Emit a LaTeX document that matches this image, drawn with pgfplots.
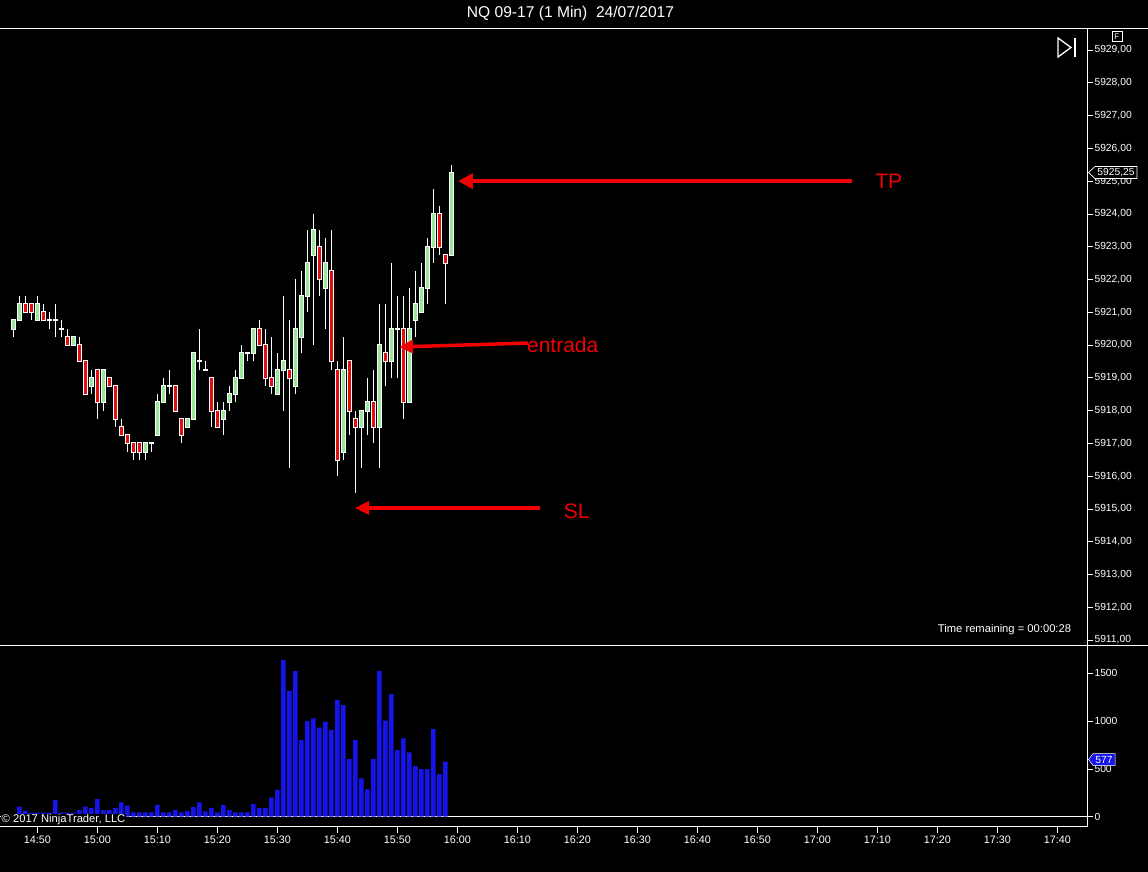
\documentclass[border=0pt]{standalone}
\usepackage{pgfplots}
\pgfplotsset{compat=1.18}
\usepackage{pgfplotstable}
\usepackage{fontspec}
\setmainfont{Liberation Sans}
\usetikzlibrary{arrows.meta}

\definecolor{candlegreen}{RGB}{150,232,150}
\definecolor{candlered}{RGB}{225,15,15}
\definecolor{volblue}{RGB}{20,20,235}
\definecolor{arrowred}{RGB}{240,0,0}

% t = minutes after 14:00, one bar per minute
\pgfplotstableread{
t o h l c
46 5920.50 5920.75 5920.25 5920.75
47 5920.75 5921.50 5920.75 5921.25
48 5921.25 5921.50 5921.00 5921.00
49 5921.25 5921.25 5920.75 5921.00
50 5920.75 5921.50 5920.75 5921.25
51 5921.00 5921.25 5920.75 5920.75
52 5920.75 5921.00 5920.50 5920.75
53 5920.75 5921.25 5920.25 5920.75
54 5920.50 5920.75 5920.25 5920.50
55 5920.25 5920.50 5920.00 5920.00
56 5920.00 5920.25 5920.00 5920.25
57 5920.00 5920.25 5919.50 5919.50
58 5919.50 5919.50 5918.50 5918.50
59 5918.75 5919.25 5918.50 5919.00
60 5919.25 5919.25 5917.75 5918.25
61 5918.25 5919.25 5918.00 5919.25
62 5919.00 5919.00 5918.75 5918.75
63 5918.75 5918.75 5917.50 5917.75
64 5917.50 5917.75 5917.25 5917.25
65 5917.25 5917.25 5916.75 5917.00
66 5917.00 5917.00 5916.50 5916.75
67 5917.00 5917.00 5916.50 5916.75
68 5916.75 5917.00 5916.50 5917.00
69 5917.00 5917.00 5916.75 5917.00
70 5917.25 5918.50 5917.25 5918.25
71 5918.25 5919.00 5918.25 5918.75
72 5918.75 5919.25 5918.50 5918.75
73 5918.75 5918.75 5918.00 5918.00
74 5917.75 5917.75 5917.00 5917.25
75 5917.50 5917.75 5917.50 5917.75
76 5917.75 5919.75 5917.75 5919.75
77 5919.50 5920.50 5919.25 5919.50
78 5919.25 5919.50 5919.25 5919.25
79 5919.00 5919.00 5917.50 5918.00
80 5918.00 5918.25 5917.50 5917.50
81 5917.75 5918.25 5917.25 5918.00
82 5918.25 5918.75 5918.00 5918.50
83 5918.50 5919.25 5918.25 5919.00
84 5919.00 5920.00 5919.00 5919.75
85 5919.75 5919.75 5919.50 5919.75
86 5919.75 5920.50 5919.50 5920.50
87 5920.50 5920.75 5920.00 5920.00
88 5920.00 5920.50 5918.75 5919.00
89 5919.00 5920.25 5918.50 5918.75
90 5918.50 5919.75 5918.50 5919.25
91 5919.25 5921.50 5918.00 5919.50
92 5919.25 5920.75 5916.25 5919.00
93 5918.75 5922.00 5918.50 5920.50
94 5920.25 5922.25 5919.75 5921.50
95 5921.50 5923.50 5921.00 5922.50
96 5922.75 5924.00 5920.00 5923.50
97 5923.00 5923.50 5921.50 5922.00
98 5921.75 5923.25 5920.50 5922.50
99 5922.25 5923.50 5919.25 5919.50
100 5919.25 5919.50 5916.00 5916.50
101 5916.75 5920.25 5916.50 5919.25
102 5919.50 5919.50 5917.25 5918.00
103 5917.75 5918.00 5915.50 5917.50
104 5917.50 5918.00 5916.25 5918.00
105 5918.00 5919.00 5917.25 5918.25
106 5918.25 5919.25 5917.00 5917.50
107 5917.50 5921.25 5916.25 5920.00
108 5919.75 5921.25 5918.75 5919.50
109 5919.50 5922.50 5919.00 5920.50
110 5920.50 5921.50 5919.00 5920.50
111 5920.50 5921.50 5917.75 5918.25
112 5918.25 5921.75 5918.25 5920.50
113 5920.75 5922.25 5920.25 5921.25
114 5921.00 5922.50 5921.00 5921.75
115 5921.75 5923.25 5921.25 5923.00
116 5923.00 5924.75 5922.50 5924.00
117 5924.00 5924.25 5922.75 5923.00
118 5922.75 5922.75 5921.25 5922.50
119 5922.75 5925.50 5922.75 5925.25
}\candles

\pgfplotstableread{
t v
46 25
47 105
48 60
49 42
50 42
51 42
52 42
53 175
54 42
55 42
56 42
57 70
58 105
59 90
60 185
61 70
62 70
63 90
64 150
65 115
66 45
67 45
68 45
69 45
70 125
71 45
72 45
73 70
74 45
75 60
76 100
77 150
78 55
79 90
80 45
81 120
82 70
83 45
84 45
85 45
86 132
87 90
88 90
89 200
90 280
91 1639
92 1315
93 1524
94 802
95 1000
96 1029
97 931
98 994
99 907
100 1220
101 1168
102 603
103 802
104 401
105 286
106 603
107 1524
108 1004
109 1283
110 697
111 819
112 673
113 530
114 499
115 499
116 917
117 446
118 577
}\volume

\pgfplotsset{
  ninja/.style={
    scale only axis, width=1087pt, xmin=43.783, xmax=224.95,
    axis line style={white, line width=0.8pt},
    tick style={white, line width=0.8pt},
    tick align=outside, major tick length=6pt,
    ticklabel style={text=white},
    scaled ticks=false,
    /pgf/number format/assume math mode=true,
    /pgf/number format/1000 sep={},
  },
  candlebar/.style={draw=none, mark=none, forget plot,
    error bars/y dir=plus, error bars/y explicit, error bars/error mark=none},
}

\begin{document}
\begin{tikzpicture}
\fill[black] (0pt,0pt) rectangle (1148pt,-872pt);

% price panel
\begin{axis}[ninja, height=617.4pt, at={(0pt,-28.3pt)}, anchor=north west,
  ymin=5910.827, ymax=5929.662,
  axis y line*=right, axis x line=none,
  ytick={5911,5912,...,5929},
  yticklabel={\pgfmathprintnumber[fixed,fixed zerofill,precision=2,use comma,1000 sep={}]{\tick}},
  yticklabel style={font=\fontsize{10.3}{12}\selectfont, anchor=west, xshift=-2pt},
]
% wicks
\addplot[candlebar, error bars/error bar style={draw=white, line width=1pt}]
  table[x=t, y=l, y error plus expr=\thisrow{h}-\thisrow{l}] {\candles};
% body outlines
\addplot[candlebar, error bars/error bar style={draw=white, line width=5pt}]
  table[x=t, y expr={min(\thisrow{o},\thisrow{c})-0.03},
        y error plus expr={abs(\thisrow{c}-\thisrow{o})+0.06}] {\candles};
% up bodies
\addplot[candlebar, error bars/error bar style={draw=candlegreen, line width=3pt},
  restrict expr to domain={\thisrow{c}-\thisrow{o}}{0.1:100}]
  table[x=t, y=o, y error plus expr=\thisrow{c}-\thisrow{o}] {\candles};
% down bodies
\addplot[candlebar, error bars/error bar style={draw=candlered, line width=3pt},
  restrict expr to domain={\thisrow{o}-\thisrow{c}}{0.1:100}]
  table[x=t, y=c, y error plus expr=\thisrow{o}-\thisrow{c}] {\candles};

% annotations
\draw[arrowred, line width=3.5pt, -{Triangle[length=15pt,width=15pt]}]
  (axis cs:185.8,5925) -- (axis cs:120.1,5925);
\node[text=arrowred, font=\fontsize{21}{24}\selectfont] at (axis cs:191.9,5925) {TP};
\draw[arrowred, line width=3.5pt, -{Triangle[length=14pt,width=13pt]}]
  (axis cs:131.8,5920.06) -- (axis cs:110.3,5919.94);
\node[text=arrowred, anchor=west, inner sep=0pt, font=\fontsize{21}{24}\selectfont]
  at (axis cs:131.6,5920.0) {entrada};
\draw[arrowred, line width=3.5pt, -{Triangle[length=14pt,width=13pt]}]
  (axis cs:133.8,5915.03) -- (axis cs:102.95,5915.03);
\node[text=arrowred, font=\fontsize{21}{24}\selectfont] at (axis cs:139.9,5914.94) {SL};
\end{axis}

% volume panel
\begin{axis}[ninja, height=181pt, at={(0pt,-645.7pt)}, anchor=north west,
  ymin=-104.6, ymax=1788.7,
  axis y line*=right, axis x line*=bottom,
  ytick={0,500,1000,1500},
  xtick={50,60,...,220},
  xticklabels={14:50,15:00,15:10,15:20,15:30,15:40,15:50,16:00,16:10,16:20,16:30,16:40,16:50,17:00,17:10,17:20,17:30,17:40},
  xticklabel style={font=\fontsize{10.8}{12}\selectfont},
  yticklabel style={font=\fontsize{10.3}{12}\selectfont, anchor=west, xshift=-2pt},
]
\draw[white, line width=0.8pt] (axis cs:43.783,0) -- (axis cs:224.95,0);
\addplot[ybar, bar width=4.4pt, fill=volblue, draw=none] table[x=t, y=v] {\volume};
\end{axis}

% frame and chart furniture
\draw[white, line width=0.8pt] (0pt,-28.3pt) -- (1148pt,-28.3pt);
\draw[white, line width=0.8pt] (0pt,-645.7pt) -- (1148pt,-645.7pt);
\node[text=white, font=\fontsize{15.6}{18}\selectfont] at (570.5pt,-13.5pt) {NQ 09-17 (1 Min)\ \ 24/07/2017};
\node[text=white, font=\fontsize{11.2}{13}\selectfont] at (1004.5pt,-630pt) {Time remaining = 00:00:28};
\node[anchor=west, fill=black, text=white, inner sep=1pt, font=\fontsize{11.2}{13}\selectfont]
  at (0.5pt,-820pt) {© 2017 NinjaTrader, LLC};
\node[draw=white, text=white, font=\fontsize{8}{9}\selectfont, inner sep=1pt,
  minimum width=10pt, minimum height=9.5pt] at (1116.7pt,-36.4pt) {F};
\draw[white, line width=1.3pt] (1058pt,-38pt) -- (1058pt,-57pt) -- (1071pt,-47.5pt) -- cycle;
\draw[white, line width=1.6pt] (1075pt,-38pt) -- (1075pt,-57pt);
% last price and last volume markers
\filldraw[fill=black, draw=white, line width=0.7pt] (1088.5pt,-172.5pt) -- (1095pt,-166.5pt)
  -- (1137pt,-166.5pt) -- (1137pt,-178.5pt) -- (1095pt,-178.5pt) -- cycle;
\node[text=white, font=\fontsize{10.3}{12}\selectfont] at (1116pt,-172.5pt) {5925,25};
\filldraw[fill=volblue, draw=white, line width=0.5pt] (1088.5pt,-759.5pt) -- (1093pt,-753.5pt)
  -- (1115pt,-753.5pt) -- (1115pt,-765.5pt) -- (1093pt,-765.5pt) -- cycle;
\node[text=white, font=\fontsize{10.3}{12}\selectfont] at (1104pt,-759.5pt) {577};

\pgfresetboundingbox
\path[use as bounding box] (0pt,0pt) rectangle (1148pt,-872pt);
\end{tikzpicture}
\end{document}
